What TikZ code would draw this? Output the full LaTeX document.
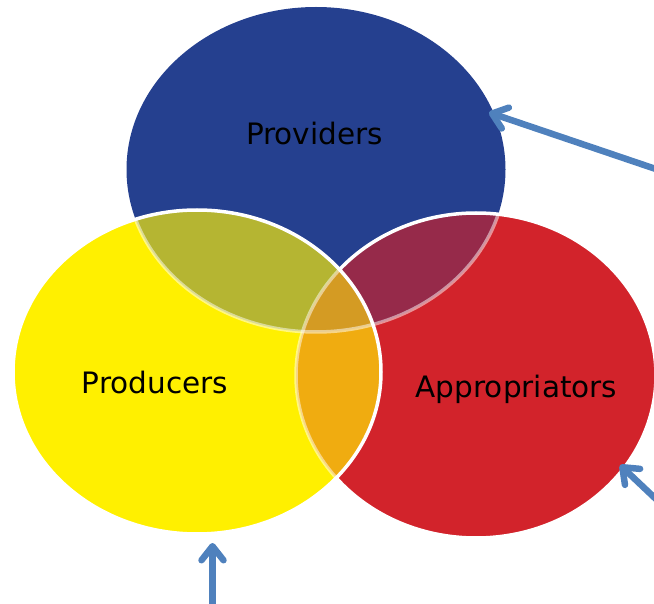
\documentclass[tikz,border=0pt]{standalone}
\usepackage{fontspec}
\setmainfont{DejaVu Sans}
\usetikzlibrary{arrows.meta}

% fills of the three sets and of their overlaps
\definecolor{provblue}{RGB}{37,64,143}
\definecolor{prodyellow}{RGB}{255,240,0}
\definecolor{appred}{RGB}{210,35,43}
\definecolor{provprod}{RGB}{181,181,50}
\definecolor{provapp}{RGB}{150,42,74}
\definecolor{prodapp}{RGB}{240,172,16}
\definecolor{allthree}{RGB}{212,155,35}
\definecolor{arrowblue}{RGB}{79,129,189}

% the three ellipses
\def\pblue{(316,169.5) ellipse [x radius=189.5pt, y radius=162.5pt]}
\def\pyellow{(197,372) ellipse [x radius=184pt, y radius=162pt]}
\def\pred{(476,375.5) ellipse [x radius=180pt, y radius=162.5pt]}

\tikzset{
  rim/.style={draw=white, line width=3.5pt},
  softrim/.style={draw=white, draw opacity=0.5, line width=3.5pt},
  settext/.style={anchor=base, text=black, inner sep=0pt,
    font=\fontsize{29.5}{35}\selectfont},
  pointer/.style={draw=arrowblue, line width=6.5pt, line cap=round,
    -{Straight Barb[length=14pt, width=22pt, round]}}
}

\begin{document}
\begin{tikzpicture}[x=1pt, y=-1pt]
\useasboundingbox (0,0) rectangle (654,604);
\clip (0,0) rectangle (654,604);

% bottom layer: providers, then appropriators
\fill[provblue] \pblue;
\fill[appred] \pred;
\begin{scope}
  \clip \pblue;
  \fill[provapp] \pred;
\end{scope}
\begin{scope}
  \clip \pred;
  \path[softrim] \pblue;
\end{scope}
\path[rim] \pred;

% top layer: producers, with the edges below showing through
\begin{scope}
  \clip \pyellow;
  \fill[prodyellow] \pyellow;
  \begin{scope}
    \clip \pblue;
    \fill[provprod] \pyellow;
  \end{scope}
  \begin{scope}
    \clip \pred;
    \fill[prodapp] \pyellow;
    \clip \pblue;
    \fill[allthree] \pyellow;
  \end{scope}
  \path[softrim] \pblue;
  \path[softrim] \pred;
\end{scope}
\path[rim] \pyellow;

% labels
\node[settext] (providers) at (314.5,145) {Providers};
\node[settext] (producers) at (155,394) {Producers};
\node[settext] (appropriators) at (516.5,397) {Appropriators};

% pointers coming in from outside
\coordinate (provfrom) at (672,174.5);
\coordinate (provto) at (489,112.5);
\coordinate (appfrom) at (676,518);
\coordinate (appto) at (620,465);
\coordinate (prodfrom) at (212.5,625);
\coordinate (prodto) at (212.5,543);
\draw[pointer] (provfrom) -- (provto);
\draw[pointer] (appfrom) -- (appto);
\draw[pointer] (prodfrom) -- (prodto);
\end{tikzpicture}
\end{document}
